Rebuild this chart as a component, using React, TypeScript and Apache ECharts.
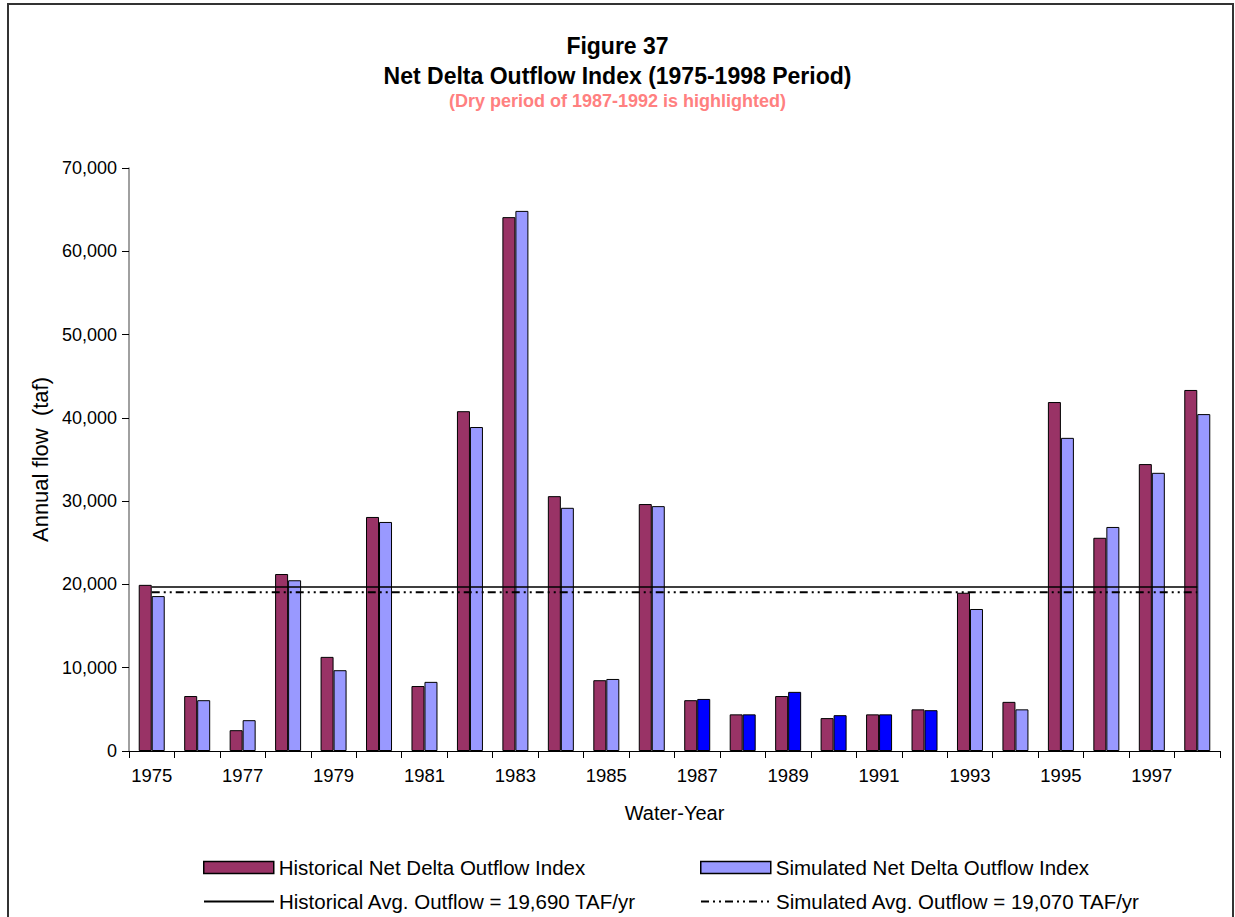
import React, { useEffect, useRef } from "react";
import * as echarts from "echarts";

const years = ["1975","1976","1977","1978","1979","1980","1981","1982","1983","1984","1985","1986","1987","1988","1989","1990","1991","1992","1993","1994","1995","1996","1997","1998"];
const historical = [19950, 6600, 2500, 21250, 11300, 28100, 7800, 40800, 64100, 30600, 8500, 29650, 6100, 4400, 6600, 3950, 4400, 5000, 19000, 5900, 41900, 25600, 34450, 43350];
const simulated = [18600, 6100, 3700, 20500, 9700, 27500, 8300, 38900, 64850, 29200, 8650, 29400, 6250, 4400, 7100, 4300, 4400, 4900, 17050, 5000, 37600, 26900, 33400, 40450];
const highlightYears = ["1987","1988","1989","1990","1991","1992"];
const historicalAvg = 19690;
const simulatedAvg = 19070;

const FONT = "Liberation Sans, Arial, sans-serif";
const HIST_COLOR = "#993366";
const SIM_COLOR = "#9999FF";
const HIGHLIGHT_COLOR = "#0000FF";

const NAMES = {
  hist: "Historical Net Delta Outflow Index",
  sim: "Simulated Net Delta Outflow Index",
  histAvg: "Historical Avg. Outflow = 19,690 TAF/yr",
  simAvg: "Simulated Avg. Outflow = 19,070 TAF/yr",
};

export default function App() {
  const ref = useRef<HTMLDivElement>(null);
  useEffect(() => {
    if (!ref.current) return;
    const chart = echarts.init(ref.current, null, { renderer: "svg" });
    const legendText = { fontFamily: FONT, fontSize: 20.5, color: "#000" };
    const barLegend = {
      orient: "horizontal",
      padding: 0,
      itemWidth: 70,
      itemHeight: 12,
      itemGap: 5,
      icon: "rect",
      itemStyle: { borderColor: "#000", borderWidth: 1.5 },
      textStyle: legendText,
      selectedMode: false,
    };
    const lineLegend = {
      orient: "horizontal",
      padding: 0,
      itemWidth: 70,
      itemHeight: 12,
      itemGap: 5,
      itemStyle: { color: "rgba(0,0,0,0)", borderColor: "rgba(0,0,0,0)", borderWidth: 0 },
      textStyle: legendText,
      selectedMode: false,
    };
    chart.setOption({
      animation: false,
      backgroundColor: "#fff",
      title: [
        { text: "Figure 37", left: "center", top: 29, textStyle: { fontFamily: FONT, fontSize: 23, fontWeight: "bold", color: "#000" } },
        { text: "Net Delta Outflow Index (1975-1998 Period)", left: "center", top: 59, textStyle: { fontFamily: FONT, fontSize: 23, fontWeight: "bold", color: "#000" } },
        { text: "(Dry period of 1987-1992 is highlighted)", left: "center", top: 87, textStyle: { fontFamily: FONT, fontSize: 18, fontWeight: "bold", color: "#FF8080" } },
      ],
      graphic: [
        { type: "rect", shape: { x: 8, y: 4, width: 1225, height: 930 }, style: { fill: "none", stroke: "#333", lineWidth: 2 }, silent: true },
      ],
      legend: [
        { ...barLegend, data: [NAMES.hist], left: 203, top: 857 },
        { ...barLegend, data: [NAMES.sim], left: 700, top: 857 },
        { ...lineLegend, data: [NAMES.histAvg], left: 203, top: 891 },
        { ...lineLegend, data: [NAMES.simAvg], left: 700, top: 891 },
      ],
      grid: { left: 129, right: 15, top: 168, bottom: 166, containLabel: false },
      xAxis: {
        type: "category",
        data: years,
        boundaryGap: true,
        name: "Water-Year",
        nameLocation: "middle",
        nameGap: 52,
        nameTextStyle: { fontFamily: FONT, fontSize: 20, color: "#000" },
        axisLine: { lineStyle: { color: "#000", width: 1 } },
        axisTick: { show: true, interval: 0, length: 7, lineStyle: { color: "#000" } },
        axisLabel: { interval: 1, margin: 15, fontFamily: FONT, fontSize: 18.5, color: "#000" },
      },
      yAxis: {
        type: "value",
        min: 0,
        max: 70000,
        interval: 10000,
        name: "Annual flow  (taf)",
        nameLocation: "middle",
        nameGap: 73,
        nameTextStyle: { fontFamily: FONT, fontSize: 22, color: "#000" },
        axisLine: { show: true, lineStyle: { color: "#808080", width: 1.5 } },
        axisTick: { show: true, length: 7, lineStyle: { color: "#000" } },
        axisLabel: {
          margin: 12,
          fontFamily: FONT,
          fontSize: 18,
          color: "#000",
          formatter: (v: number) => v.toLocaleString("en-US"),
        },
        splitLine: { show: false },
      },
      series: [
        {
          name: NAMES.hist,
          type: "bar",
          data: historical,
          barWidth: 13,
          barGap: "0%",
          itemStyle: { color: HIST_COLOR, borderColor: "#000", borderWidth: 1 },
        },
        {
          name: NAMES.sim,
          type: "bar",
          data: simulated.map((v, i) =>
            highlightYears.includes(years[i])
              ? { value: v, itemStyle: { color: HIGHLIGHT_COLOR } }
              : v
          ),
          barWidth: 13,
          barGap: "0%",
          itemStyle: { color: SIM_COLOR, borderColor: "#000", borderWidth: 1 },
        },
        {
          name: NAMES.histAvg,
          type: "line",
          data: years.map(() => historicalAvg),
          symbol: "none",
          lineStyle: { color: "#000", width: 1.5, type: "solid" },
          itemStyle: { color: "#000" },
          z: 5,
        },
        {
          name: NAMES.simAvg,
          type: "line",
          data: years.map(() => simulatedAvg),
          symbol: "none",
          lineStyle: { color: "#000", width: 2, type: [8, 4, 2, 4, 2, 4] },
          itemStyle: { color: "#000" },
          z: 5,
        },
      ],
    });
    return () => chart.dispose();
  }, []);
  return (
    <div
      ref={ref}
      style={{ position: "absolute", left: 0, top: 0, width: 1235, height: 917 }}
    />
  );
}
